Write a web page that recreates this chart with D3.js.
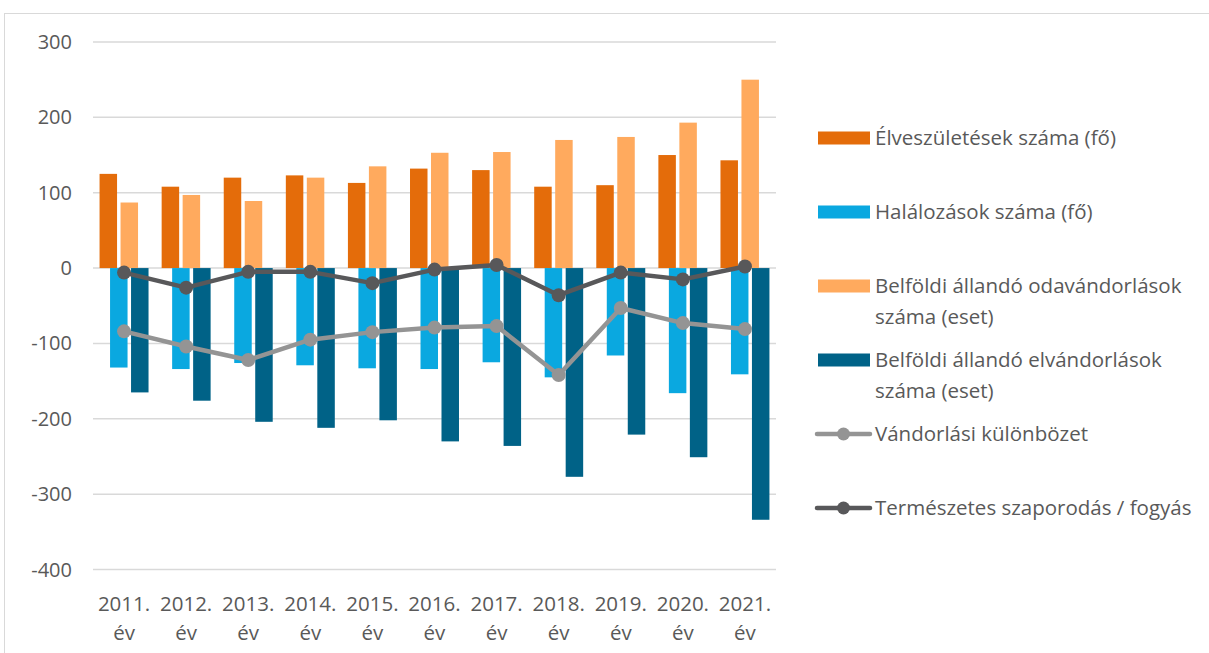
<!DOCTYPE html>
<head>
	<meta charset="utf-8">
	<title>Születések, halálozások, vándorlások</title>
	<script src="https://cdn.jsdelivr.net/npm/d3@7"></script>
	<style>
		body {
			margin: 0;
			background: white;
		}
		svg text {
			font-family: 'Open Sans', sans-serif;
			fill: #595959;
		}
		.grid line {
			stroke: #d9d9d9;
			stroke-width: 1.5px;
		}
	</style>
</head>
<body>
	<script>
		// data
		var years = ["2011.", "2012.", "2013.", "2014.", "2015.", "2016.", "2017.", "2018.", "2019.", "2020.", "2021."];
		var births = [125, 108, 120, 123, 113, 132, 130, 108, 110, 150, 143];
		var deaths = [-132, -134, -126, -129, -133, -134, -125, -145, -116, -166, -141];
		var inMigration = [87, 97, 89, 120, 135, 153, 154, 170, 174, 193, 250];
		var outMigration = [-165, -176, -204, -212, -202, -230, -236, -277, -221, -251, -334];
		var migrationDiff = [-84, -104, -122, -95, -85, -79, -77, -142, -53, -73, -81];
		var naturalChange = [-6, -26, -5, -5, -20, -2, 4, -36, -6, -15, 2];
		var yTicks = [300, 200, 100, 0, -100, -200, -300, -400];

		var width = 1209;
		var height = 653;

		var svg = d3.select("body")
			.append("svg")
			.attr("width", width)
			.attr("height", height);

		// chart frame
		svg.append("rect")
			.attr("x", 4.5)
			.attr("y", 13.5)
			.attr("width", width + 10)
			.attr("height", height + 10)
			.attr("fill", "none")
			.attr("stroke", "#d9d9d9")
			.attr("stroke-width", 1);

		var x = d3.scaleBand()
			.domain(years)
			.range([93, 776])
			.padding(0);

		var y = d3.scaleLinear()
			.domain([-400, 300])
			.range([569.5, 42]);

		// gridlines
		svg.append("g")
			.attr("class", "grid")
			.selectAll("line")
			.data(yTicks)
			.enter().append("line")
				.attr("x1", 93)
				.attr("x2", 776)
				.attr("y1", function(d) { return y(d); })
				.attr("y2", function(d) { return y(d); });

		// y tick labels
		svg.append("g")
			.selectAll("text")
			.data(yTicks)
			.enter().append("text")
				.attr("x", 72)
				.attr("y", function(d) { return y(d); })
				.attr("dy", "0.35em")
				.attr("text-anchor", "end")
				.style("font-size", "20px")
				.text(function(d) { return d; });

		// x labels, two lines
		var xl = svg.append("g")
			.selectAll("text")
			.data(years)
			.enter().append("text")
				.attr("text-anchor", "middle")
				.style("font-size", "20.5px");
		xl.append("tspan")
			.attr("x", function(d) { return x(d) + x.bandwidth() / 2; })
			.attr("y", 611)
			.text(function(d) { return d; });
		xl.append("tspan")
			.attr("x", function(d) { return x(d) + x.bandwidth() / 2; })
			.attr("y", 640)
			.text("év");

		// clustered bars with 40% overlap, 75% gap
		var barW = x.bandwidth() / 3.55;
		var step = barW * 0.6;
		var groupW = barW + 3 * step;

		var barSeries = [
			{name: "Élveszületések száma (fő)", values: births, color: "#e46c0a"},
			{name: "Halálozások száma (fő)", values: deaths, color: "#0aa8e0"},
			{name: "Belföldi állandó odavándorlások száma (eset)", values: inMigration, color: "#ffaa5e"},
			{name: "Belföldi állandó elvándorlások száma (eset)", values: outMigration, color: "#006287"}
		];

		var bars = svg.append("g");
		barSeries.forEach(function(s, i) {
			bars.append("g")
				.selectAll("rect")
				.data(s.values)
				.enter().append("rect")
					.attr("x", function(d, j) { return x(years[j]) + (x.bandwidth() - groupW) / 2 + i * step; })
					.attr("width", barW)
					.attr("y", function(d) { return y(Math.max(0, d)); })
					.attr("height", function(d) { return Math.abs(y(d) - y(0)); })
					.attr("fill", s.color);
		});

		var lineSeries = [
			{name: "Vándorlási különbözet", values: migrationDiff, color: "#949494"},
			{name: "Természetes szaporodás / fogyás", values: naturalChange, color: "#58585a"}
		];

		var line = d3.line()
			.x(function(d, j) { return x(years[j]) + x.bandwidth() / 2; })
			.y(function(d) { return y(d); });

		lineSeries.forEach(function(s) {
			var g = svg.append("g");
			g.append("path")
				.attr("d", line(s.values))
				.attr("fill", "none")
				.attr("stroke", s.color)
				.attr("stroke-width", 4.5)
				.attr("stroke-linejoin", "round");
			g.selectAll("circle")
				.data(s.values)
				.enter().append("circle")
					.attr("cx", function(d, j) { return x(years[j]) + x.bandwidth() / 2; })
					.attr("cy", function(d) { return y(d); })
					.attr("r", 7)
					.attr("fill", s.color);
		});

		// legend
		var legendItems = [
			{lines: ["Élveszületések száma (fő)"], color: "#e46c0a", type: "bar", cy: 138},
			{lines: ["Halálozások száma (fő)"], color: "#0aa8e0", type: "bar", cy: 212},
			{lines: ["Belföldi állandó odavándorlások", "száma (eset)"], color: "#ffaa5e", type: "bar", cy: 286},
			{lines: ["Belföldi állandó elvándorlások", "száma (eset)"], color: "#006287", type: "bar", cy: 360},
			{lines: ["Vándorlási különbözet"], color: "#949494", type: "line", cy: 434},
			{lines: ["Természetes szaporodás / fogyás"], color: "#58585a", type: "line", cy: 508}
		];

		var legend = svg.append("g");
		legendItems.forEach(function(it) {
			var g = legend.append("g");
			if (it.type == "bar") {
				g.append("rect")
					.attr("x", 818)
					.attr("y", it.cy - 6.5)
					.attr("width", 52)
					.attr("height", 13)
					.attr("fill", it.color);
			} else {
				g.append("line")
					.attr("x1", 817)
					.attr("x2", 870)
					.attr("y1", it.cy)
					.attr("y2", it.cy)
					.attr("stroke", it.color)
					.attr("stroke-width", 4.5)
					.attr("stroke-linecap", "round");
				g.append("circle")
					.attr("cx", 843.5)
					.attr("cy", it.cy)
					.attr("r", 6.5)
					.attr("fill", it.color);
			}
			it.lines.forEach(function(t, k) {
				g.append("text")
					.attr("x", 875)
					.attr("y", it.cy + k * 30.5)
					.attr("dy", "0.35em")
					.style("font-size", "20.5px")
					.text(t);
			});
		});
	</script>
</body>
